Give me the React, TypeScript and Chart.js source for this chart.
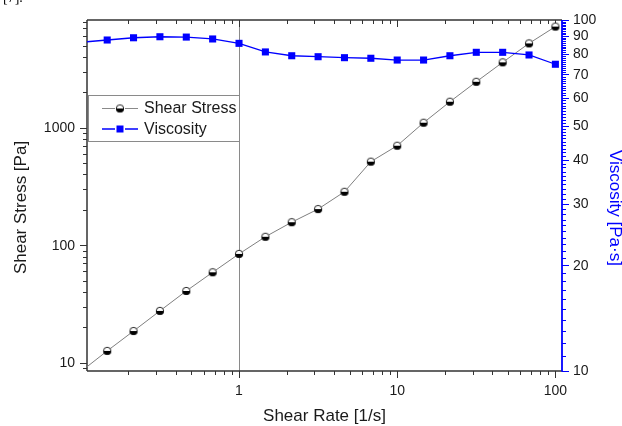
import { useEffect, useRef } from 'react';
import { Chart, registerables } from 'chart.js';

Chart.register(...registerables);

// ---- data ----
const shearRate = [0.1, 0.1468, 0.2154, 0.3162, 0.4642, 0.6813, 1, 1.468, 2.154, 3.162, 4.642, 6.813, 10, 14.68, 21.54, 31.62, 46.42, 68.13, 100];
const shearStress = [8.4, 12.6, 18.6, 27.6, 40.8, 58.8, 84.3, 118, 157, 203, 285, 514, 703, 1103, 1664, 2460, 3600, 5220, 7250];
const viscosity = [86.4, 87.7, 89.0, 89.6, 89.4, 88.3, 85.8, 81.1, 79.1, 78.6, 78.1, 77.8, 76.9, 76.9, 79.1, 80.9, 80.9, 79.5, 74.8];

const xTickLabels = [1, 10, 100];
const yLeftTickLabels = [10, 100, 1000];
const yRightTickLabels = [10, 20, 30, 40, 50, 60, 70, 80, 90, 100];

const X_MIN = 0.1094;
const X_MAX = 110.1;
const YL_MIN = 8.5;
const YL_MAX = 8254;
const YR_MIN = 10;
const YR_MAX = 100;

const SANS = '"Liberation Sans", Arial, sans-serif';
const BLUE = '#0000ff';
const AXIS = '#333333';

let halfDot: HTMLCanvasElement | null = null;

function makeHalfDot(d: number): HTMLCanvasElement {
  const c = document.createElement('canvas');
  const s = d + 2;
  c.width = s;
  c.height = s;
  const g = c.getContext('2d')!;
  const r = d / 2;
  const cx = s / 2;
  const cy = s / 2;
  g.beginPath();
  g.arc(cx, cy, r, Math.PI, 2 * Math.PI);
  g.closePath();
  g.fillStyle = '#ffffff';
  g.fill();
  g.beginPath();
  g.arc(cx, cy, r, 0, Math.PI);
  g.closePath();
  g.fillStyle = '#000000';
  g.fill();
  g.beginPath();
  g.arc(cx, cy, r - 0.3, 0, 2 * Math.PI);
  g.strokeStyle = '#111111';
  g.lineWidth = 0.9;
  g.stroke();
  return c;
}

function logTicks(min: number, max: number) {
  const out: { v: number; major: boolean }[] = [];
  for (let e = -2; e <= 4; e++) {
    for (let m = 1; m <= 9; m++) {
      const v = m * Math.pow(10, e);
      if (v >= min * 0.999 && v <= max * 1.001) out.push({ v, major: m === 1 });
    }
  }
  return out;
}

const axesPlugin = {
  id: 'originAxes',
  beforeDatasetsDraw(chart: any) {
    const { ctx, chartArea: a, scales } = chart;
    const xs = scales.x;
    const yl = scales.y;
    const yr = scales.y2;
    ctx.save();

    // reference line at x = 1 and legend frame
    const p1 = Math.round(xs.getPixelForValue(1)) + 0.5;
    ctx.strokeStyle = '#8a8a8a';
    ctx.lineWidth = 1;
    ctx.beginPath();
    ctx.moveTo(p1, a.top);
    ctx.lineTo(p1, a.bottom);
    ctx.stroke();
    ctx.fillStyle = '#ffffff';
    ctx.fillRect(a.left + 1, 95.5, p1 - a.left - 1, 46);
    ctx.strokeRect(a.left + 1.5, 95.5, p1 - a.left - 1.5, 46);

    // axis lines
    ctx.strokeStyle = AXIS;
    ctx.lineWidth = 1.5;
    ctx.beginPath();
    ctx.moveTo(a.left, a.bottom);
    ctx.lineTo(a.right, a.bottom);
    ctx.moveTo(a.left, a.top);
    ctx.lineTo(a.right, a.top);
    ctx.moveTo(a.left, a.top);
    ctx.lineTo(a.left, a.bottom);
    ctx.stroke();

    // x ticks (bottom outward, top inward)
    ctx.lineWidth = 1;
    ctx.beginPath();
    for (const t of logTicks(X_MIN, X_MAX)) {
      const px = Math.round(xs.getPixelForValue(t.v)) + 0.5;
      const len = t.major ? 7 : 4;
      ctx.moveTo(px, a.bottom);
      ctx.lineTo(px, a.bottom + len);
      ctx.moveTo(px, a.top);
      ctx.lineTo(px, a.top + len);
    }
    // left y ticks (outward)
    for (const t of logTicks(YL_MIN, YL_MAX)) {
      const py = Math.round(yl.getPixelForValue(t.v)) + 0.5;
      const len = t.major ? 7 : 4;
      ctx.moveTo(a.left - len, py);
      ctx.lineTo(a.left, py);
    }
    ctx.stroke();

    // right axis (blue)
    ctx.strokeStyle = BLUE;
    ctx.lineWidth = 1.8;
    ctx.beginPath();
    ctx.moveTo(a.right, a.top);
    ctx.lineTo(a.right, a.bottom + 0.5);
    ctx.stroke();
    ctx.lineWidth = 1;
    ctx.beginPath();
    for (let v = YR_MIN; v <= YR_MAX; v++) {
      const py = Math.round(yr.getPixelForValue(v)) + 0.5;
      const len = v % 10 === 0 ? 7 : 4;
      ctx.moveTo(a.right, py);
      ctx.lineTo(a.right + len, py);
    }
    ctx.stroke();

    // tick labels
    ctx.fillStyle = '#1a1a1a';
    ctx.font = `14px ${SANS}`;
    ctx.textAlign = 'right';
    ctx.textBaseline = 'middle';
    for (const v of yLeftTickLabels) {
      ctx.fillText(String(v), a.left - 12, yl.getPixelForValue(v) + 0.5);
    }
    ctx.textAlign = 'left';
    for (const v of yRightTickLabels) {
      ctx.fillText(String(v), a.right + 11, yr.getPixelForValue(v) + 0.5);
    }
    ctx.textAlign = 'center';
    ctx.textBaseline = 'alphabetic';
    for (const v of xTickLabels) {
      ctx.fillText(String(v), xs.getPixelForValue(v), a.bottom + 24);
    }

    // axis titles
    ctx.font = `17px ${SANS}`;
    ctx.fillStyle = '#1a1a1a';
    ctx.textAlign = 'center';
    ctx.fillText('Shear Rate [1/s]', (a.left + a.right) / 2, a.bottom + 50);

    ctx.save();
    ctx.translate(25.5, 207.5);
    ctx.rotate(-Math.PI / 2);
    ctx.fillText('Shear Stress [Pa]', 0, 0);
    ctx.restore();

    ctx.save();
    ctx.fillStyle = BLUE;
    ctx.translate(609.5, 208);
    ctx.rotate(Math.PI / 2);
    ctx.fillText('Viscosity [Pa\u00b7s]', 0, 0);
    ctx.restore();

    // cut-off caption fragment at top-left
    ctx.font = '14px "Liberation Serif", serif';
    ctx.textAlign = 'left';
    ctx.fillStyle = '#000000';
    ctx.fillText('[7].', 3, 2);

    ctx.restore();
  },
  afterDatasetsDraw(chart: any) {
    const { ctx } = chart;
    ctx.save();
    const rows = [
      { y: 108.5, label: 'Shear Stress', color: '#8a8a8a', kind: 'dot' },
      { y: 129, label: 'Viscosity', color: BLUE, kind: 'sq' },
    ];
    for (const r of rows) {
      ctx.strokeStyle = r.color;
      ctx.lineWidth = r.kind === 'sq' ? 1.3 : 1;
      ctx.beginPath();
      ctx.moveTo(102, r.y);
      ctx.lineTo(115, r.y);
      ctx.moveTo(125, r.y);
      ctx.lineTo(138, r.y);
      ctx.stroke();
      if (r.kind === 'dot') {
        if (halfDot) ctx.drawImage(halfDot, 120 - halfDot.width / 2, r.y - halfDot.height / 2);
      } else {
        ctx.fillStyle = BLUE;
        ctx.fillRect(116.5, r.y - 3.5, 7, 7);
      }
      ctx.fillStyle = '#1a1a1a';
      ctx.font = `16px ${SANS}`;
      ctx.textAlign = 'left';
      ctx.textBaseline = 'middle';
      ctx.fillText(r.label, 144, r.y + 0.5);
    }
    ctx.restore();
  },
};

export default function App() {
  const ref = useRef<HTMLCanvasElement | null>(null);

  useEffect(() => {
    if (!ref.current) return;
    halfDot = makeHalfDot(8);
    const chart = new Chart(ref.current, {
      type: 'line',
      data: {
        datasets: [
          {
            label: 'Viscosity',
            data: shearRate.map((x, i) => ({ x, y: viscosity[i] })),
            yAxisID: 'y2',
            borderColor: BLUE,
            backgroundColor: BLUE,
            borderWidth: 1.3,
            pointStyle: 'rect',
            pointRadius: 5,
            pointBorderWidth: 0,
            tension: 0,
            clip: { left: 0, top: 8, right: 8, bottom: 0 } as any,
          },
          {
            label: 'Shear Stress',
            data: shearRate.map((x, i) => ({ x, y: shearStress[i] })),
            yAxisID: 'y',
            borderColor: '#7f7f7f',
            backgroundColor: '#000000',
            borderWidth: 1,
            pointStyle: halfDot as any,
            pointRadius: 4,
            tension: 0,
            clip: { left: 0, top: 8, right: 8, bottom: 0 } as any,
          },
        ],
      },
      options: {
        responsive: false,
        devicePixelRatio: 1,
        animation: false,
        events: [],
        layout: { padding: { left: 87, right: 60, top: 20, bottom: 55 } },
        plugins: { legend: { display: false }, tooltip: { enabled: false } },
        scales: {
          x: { type: 'logarithmic', min: X_MIN, max: X_MAX, bounds: 'data', display: false },
          y: { type: 'logarithmic', position: 'left', min: YL_MIN, max: YL_MAX, bounds: 'data', display: false },
          y2: { type: 'logarithmic', position: 'right', min: YR_MIN, max: YR_MAX, bounds: 'data', display: false },
        },
      },
      plugins: [axesPlugin as any],
    });
    return () => chart.destroy();
  }, []);

  return (
    <div style={{ position: 'fixed', left: 0, top: 0, width: 622, height: 426, background: '#ffffff' }}>
      <canvas ref={ref} width={622} height={426} style={{ display: 'block' }} />
    </div>
  );
}
